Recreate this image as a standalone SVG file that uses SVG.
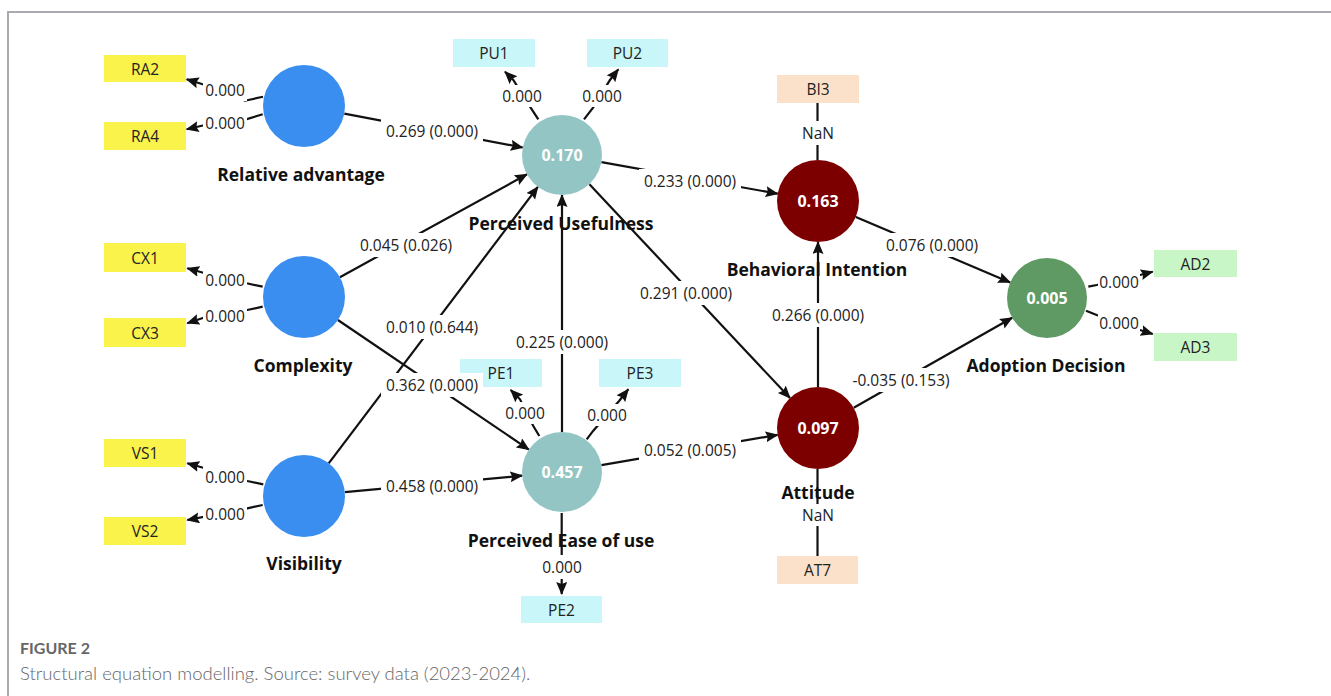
<svg xmlns="http://www.w3.org/2000/svg" width="1331" height="696" viewBox="0 0 1331 696">
<style>
.ln{stroke:#111;stroke-width:2.2;fill:none}
.ar{marker-end:url(#ah)}
.lb rect{fill:#fff}
.lb text{font-family:"Open Sans","Liberation Sans",sans-serif;font-size:15.5px;fill:#222;text-anchor:middle;dominant-baseline:central}
.nl{font-family:"Open Sans","Liberation Sans",sans-serif;font-size:17.5px;font-weight:bold;fill:#111;text-anchor:middle;dominant-baseline:central}
.cv{font-family:"Open Sans","Liberation Sans",sans-serif;font-size:16px;font-weight:bold;fill:#fff;text-anchor:middle;dominant-baseline:central}
.bt{font-family:"Open Sans","Liberation Sans",sans-serif;font-size:15.5px;fill:#222;text-anchor:middle;dominant-baseline:central}
.ex{fill:#3a8ef0}.en{fill:#93c5c4}.rd{fill:#7d0000}.gn{fill:#5f9a64}
.yb{fill:#faf34c}.cb{fill:#c9f6f8}.pb{fill:#fbe1c9}.gb{fill:#c8f6c6}
.cap1{font-family:Lato,"Open Sans",sans-serif;font-size:16px;font-weight:bold;fill:#666}
.cap2{font-family:Lato,"Open Sans",sans-serif;font-size:18.5px;font-weight:300;fill:#666}
</style>
<defs>
<marker id="ah" markerUnits="userSpaceOnUse" markerWidth="14" markerHeight="12" refX="12" refY="5.5" orient="auto">
<path d="M0,0 L13,5.5 L0,11 L2,5.5 Z" fill="#111"/>
</marker>
</defs>
<rect width="1331" height="696" fill="#fff"/>
<path d="M8,696 V12 H1331" fill="none" stroke="#aaaab0" stroke-width="2"/>

<g id="connectors">
<!-- structural paths -->
<path class="ln ar" d="M344.3,113.7 L522.7,147.5"/>
<path class="ln ar" d="M339.9,277.2 L527.0,174.3"/>
<path class="ln ar" d="M337.9,320.0 L528.9,449.6"/>
<path class="ln ar" d="M328.7,463.3 L537.9,186.9"/>
<path class="ln ar" d="M344.8,492.2 L522.2,475.7"/>
<path class="ln ar" d="M562,432 L562,195"/>
<path class="ln ar" d="M601.4,162.1 L777.7,193.7"/>
<path class="ln ar" d="M589.4,184.2 L790.0,398.1"/>
<path class="ln ar" d="M601.4,465.2 L777.6,434.9"/>
<path class="ln ar" d="M818,387 L818,242"/>
<path class="ln ar" d="M855.8,217.0 L1010.2,282.4"/>
<path class="ln ar" d="M853.7,407.7 L1012.2,317.8"/>
<!-- indicator paths -->
<path class="ln ar" d="M263,96.7 L245,100.7 L205,85 L186.7,79.3"/>
<path class="ln ar" d="M262.7,114.3 L246,119.3 L205,125 L186.7,129.3"/>
<path class="ln ar" d="M262.7,286.7 L246.7,283.3 L205,273.3 L187.3,268.3"/>
<path class="ln ar" d="M262.7,306.7 L247.3,310 L205,317.3 L187.3,323.3"/>
<path class="ln ar" d="M263.3,484.3 L247.3,481 L205,468.3 L187.3,463.3"/>
<path class="ln ar" d="M262.7,505 L247.3,508.3 L205,516.7 L187.3,520"/>
<path class="ln ar" d="M538.3,119.3 L530,106.7 L513.3,80 L505,71.7"/>
<path class="ln ar" d="M584,119.3 L593.3,107.3 L610,80 L618.3,69.3"/>
<path class="ln ar" d="M539.3,436 L533.3,426 L520,399.3 L510.7,390"/>
<path class="ln ar" d="M586.7,439.3 L593.3,430.7 L619.3,400.7 L628.3,389.3"/>
<path class="ln ar" d="M561.7,513 L561.7,594"/>
<path class="ln ar" d="M1088.3,286.7 L1096.7,285 L1140,275 L1152.7,271.7"/>
<path class="ln ar" d="M1086,310.7 L1096.7,315 L1140,330 L1152.7,334"/>
<path class="ln" d="M817.5,103 L817.5,160"/>
<path class="ln" d="M817.5,469 L817.5,556"/>
</g>

<g id="node-RA">
<circle class="ex" cx="304" cy="106" r="41"/>
<text class="nl" x="301" y="174">Relative advantage</text>
</g>
<g id="node-CX">
<circle class="ex" cx="304" cy="297" r="41"/>
<text class="nl" x="303" y="365">Complexity</text>
</g>
<g id="node-VS">
<circle class="ex" cx="304" cy="496" r="41"/>
<text class="nl" x="304" y="563">Visibility</text>
</g>
<g id="node-PU">
<circle class="en" cx="562" cy="155" r="40"/>
<text class="cv" x="562" y="155">0.170</text>
<text class="nl" x="561" y="223">Perceived Usefulness</text>
</g>
<g id="node-PE">
<circle class="en" cx="562" cy="472" r="40"/>
<text class="cv" x="562" y="472">0.457</text>
<text class="nl" x="561" y="540">Perceived Ease of use</text>
</g>
<g id="node-BI">
<circle class="rd" cx="818" cy="201" r="41"/>
<text class="cv" x="818" y="201">0.163</text>
<text class="nl" x="817" y="269">Behavioral Intention</text>
</g>
<g id="node-AT">
<circle class="rd" cx="818" cy="428" r="41"/>
<text class="cv" x="818" y="428">0.097</text>
<text class="nl" x="818" y="492">Attitude</text>
</g>
<g id="node-AD">
<circle class="gn" cx="1047" cy="298" r="40"/>
<text class="cv" x="1047" y="298">0.005</text>
<text class="nl" x="1046" y="365">Adoption Decision</text>
</g>

<g id="ind-RA2"><rect class="yb" x="104" y="55" width="82" height="27"/><text class="bt" x="145" y="68.5">RA2</text></g>
<g id="ind-RA4"><rect class="yb" x="104" y="122" width="82" height="28"/><text class="bt" x="145" y="136">RA4</text></g>
<g id="ind-CX1"><rect class="yb" x="104" y="243" width="82" height="29"/><text class="bt" x="145" y="257.5">CX1</text></g>
<g id="ind-CX3"><rect class="yb" x="104" y="318" width="82" height="29"/><text class="bt" x="145" y="332.5">CX3</text></g>
<g id="ind-VS1"><rect class="yb" x="104" y="439" width="82" height="28"/><text class="bt" x="145" y="453">VS1</text></g>
<g id="ind-VS2"><rect class="yb" x="104" y="517" width="82" height="28"/><text class="bt" x="145" y="531">VS2</text></g>
<g id="ind-PU1"><rect class="cb" x="453" y="39" width="82" height="28"/><text class="bt" x="494" y="53">PU1</text></g>
<g id="ind-PU2"><rect class="cb" x="587" y="39" width="81" height="28"/><text class="bt" x="627.5" y="53">PU2</text></g>
<g id="ind-PE1"><rect class="cb" x="460" y="359" width="82" height="28"/><text class="bt" x="501" y="373">PE1</text></g>
<g id="ind-PE3"><rect class="cb" x="599" y="359" width="82" height="28"/><text class="bt" x="640" y="373">PE3</text></g>
<g id="ind-PE2"><rect class="cb" x="521" y="596" width="81" height="27"/><text class="bt" x="561.5" y="609.5">PE2</text></g>
<g id="ind-BI3"><rect class="pb" x="777" y="75" width="82" height="28"/><text class="bt" x="818" y="89">BI3</text></g>
<g id="ind-AT7"><rect class="pb" x="777" y="556" width="81" height="28"/><text class="bt" x="817.5" y="570">AT7</text></g>
<g id="ind-AD2"><rect class="gb" x="1154" y="250" width="83" height="27"/><text class="bt" x="1195.5" y="263.5">AD2</text></g>
<g id="ind-AD3"><rect class="gb" x="1154" y="333" width="83" height="28"/><text class="bt" x="1195.5" y="347">AD3</text></g>

<g id="connector-labels" class="lb">
<rect x="381" y="119" width="102" height="24"/><text x="432" y="131">0.269 (0.000)</text>
<rect x="355" y="233" width="102" height="24"/><text x="406" y="245">0.045 (0.026)</text>
<rect x="381" y="315" width="102" height="24"/><text x="432" y="327">0.010 (0.644)</text>
<rect x="381" y="373" width="102" height="24"/><text x="432" y="385">0.362 (0.000)</text>
<rect x="381" y="474" width="102" height="24"/><text x="432" y="486">0.458 (0.000)</text>
<rect x="511" y="330" width="102" height="24"/><text x="562" y="342">0.225 (0.000)</text>
<rect x="639" y="169" width="102" height="24"/><text x="690" y="181">0.233 (0.000)</text>
<rect x="635" y="281" width="102" height="24"/><text x="686" y="293">0.291 (0.000)</text>
<rect x="639" y="438" width="102" height="24"/><text x="690" y="450">0.052 (0.005)</text>
<rect x="767" y="303" width="102" height="24"/><text x="818" y="315">0.266 (0.000)</text>
<rect x="881" y="233" width="102" height="24"/><text x="932" y="245">0.076 (0.000)</text>
<rect x="847" y="368" width="108" height="24"/><text x="901" y="380">-0.035 (0.153)</text>
<rect x="203" y="79" width="44" height="22"/><text x="225" y="90">0.000</text>
<rect x="203" y="112" width="44" height="22"/><text x="225" y="123">0.000</text>
<rect x="203" y="269" width="44" height="22"/><text x="225" y="280">0.000</text>
<rect x="203" y="305" width="44" height="22"/><text x="225" y="316">0.000</text>
<rect x="203" y="466" width="44" height="22"/><text x="225" y="477">0.000</text>
<rect x="203" y="503" width="44" height="22"/><text x="225" y="514">0.000</text>
<rect x="500" y="85" width="44" height="22"/><text x="522" y="96">0.000</text>
<rect x="580" y="85" width="44" height="22"/><text x="602" y="96">0.000</text>
<rect x="503" y="402" width="44" height="22"/><text x="525" y="413">0.000</text>
<rect x="585" y="404" width="44" height="22"/><text x="607" y="415">0.000</text>
<rect x="540" y="555" width="44" height="24"/><text x="562" y="567">0.000</text>
<rect x="1098" y="271" width="42" height="22"/><text x="1119" y="282">0.000</text>
<rect x="1098" y="312" width="42" height="22"/><text x="1119" y="323">0.000</text>
<rect x="800" y="121" width="36" height="24"/><text x="818" y="133">NaN</text>
<rect x="800" y="504" width="36" height="22"/><text x="818" y="515">NaN</text>
</g>

<g id="caption">
<text class="cap1" x="20" y="654">FIGURE 2</text>
<text class="cap2" x="20" y="680">Structural equation modelling. Source: survey data (2023-2024).</text>
</g>
</svg>
